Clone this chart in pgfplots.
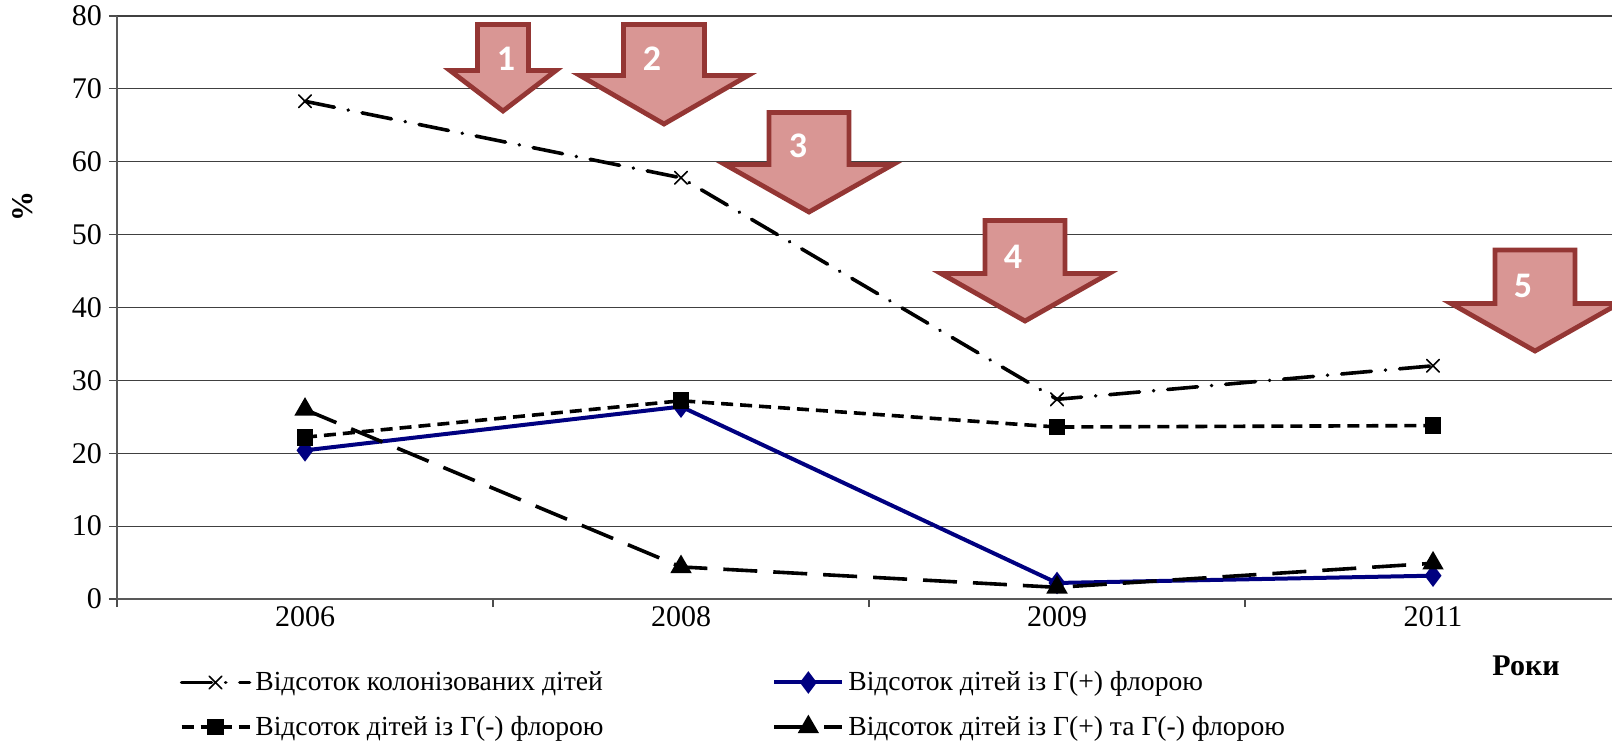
\documentclass[border=0pt]{standalone}
\usepackage{pgfplots}
\pgfplotsset{compat=1.18}
\usepackage{fontspec}
\setmainfont{Liberation Serif}
\newfontfamily\carlito{Carlito}
\definecolor{arrowline}{HTML}{943634}
\definecolor{arrowfill}{HTML}{D99694}
\definecolor{navyline}{HTML}{000080}

% block arrow: cx, half shaft, half head, top, shoulder, tip, label, lx, ly (pixels)
\newcommand\blockarrow[9]{%
  \draw[arrowline, fill=arrowfill, line width=2.4pt, line join=miter]
    (#1-#2,#4) -- (#1+#2,#4) -- (#1+#2,#5) -- (#1+#3,#5) -- (#1,#6)
    -- (#1-#3,#5) -- (#1-#2,#5) -- cycle;
  \node[text=white, font=\carlito\bfseries\fontsize{18}{20}\selectfont] at (#8,#9) {#7};}

\begin{document}
\begin{tikzpicture}
\useasboundingbox (0,0) rectangle (806pt,370pt);
\begin{axis}[
  at={(58.5pt,70.5pt)}, anchor=south west,
  scale only axis, width=747.5pt, height=291.5pt,
  xmin=-0.5, xmax=3.476, ymin=0, ymax=80,
  axis lines*=left,
  axis line style={black!65, line width=1pt},
  ytick={0,10,...,80},
  xtick={-0.5,0.5,1.5,2.5}, xticklabels={},
  extra x ticks={0,1,2,3},
  extra x tick labels={2006,2008,2009,2011},
  extra x tick style={major tick length=0pt},
  tick align=outside, major tick length=4pt,
  tick style={black!70, line width=0.6pt},
  ymajorgrids=true,
  grid style={black!75, line width=0.6pt},
  ticklabel style={font=\fontsize{15}{18}\selectfont},
  /pgf/number format/assume math mode=true,
  ylabel={\textbf{\%}},
  ylabel style={at={(axis description cs:-0.063,0.674)}, anchor=center, font=\fontsize{15}{18}\selectfont},
  xlabel={\textbf{Роки}},
  xlabel style={at={(axis description cs:0.9425,-0.115)}, anchor=center, font=\fontsize{15}{18}\selectfont},
  legend columns=2,
  legend cell align=left,
  legend style={at={(axis description cs:0.0377,-0.1098)}, anchor=north west,
    draw=none, fill=none, font=\fontsize{13.8}{16.5}\selectfont,
    row sep=7.2pt},
  legend image code/.code={\draw[mark repeat=2,mark phase=2,#1]
    plot coordinates {(0pt,0pt)(17pt,0pt)(34pt,0pt)};},
]
\addplot[black, line width=1.8pt, line cap=round,
  dash pattern=on 15pt off 7pt on 0.1pt off 7pt,
  mark=x, mark size=4.5pt, mark options={solid, line width=0.8pt}]
  coordinates {(0,68.3)(1,57.8)(2,27.4)(3,32.0)};
\addlegendentry{\makebox[256.5pt][l]{Відсоток колонізованих дітей}}
\addplot[navyline, line width=2pt,
  mark=diamond*, mark size=4pt, mark options={solid}]
  coordinates {(0,20.4)(1,26.4)(2,2.2)(3,3.2)};
\addlegendentry{Відсоток дітей із Г(+) флорою}
\addplot[black, line width=1.8pt, dash pattern=on 6pt off 3.5pt,
  mark=square*, mark size=3.3pt, mark options={solid}]
  coordinates {(0,22.2)(1,27.2)(2,23.6)(3,23.8)};
\addlegendentry{\makebox[256.5pt][l]{Відсоток дітей із Г(-) флорою}}
\addplot[black, line width=1.8pt, dash pattern=on 17pt off 8pt,
  mark=triangle*, mark size=4.4pt, mark options={solid}]
  coordinates {(0,26.0)(1,4.4)(2,1.6)(3,4.9)};
\addlegendentry{Відсоток дітей із Г(+) та Г(-) флорою}
\end{axis}
\begin{scope}[x=0.5pt, y=-0.5pt, shift={(0pt,370pt)}]
  \blockarrow{503}{25.5}{53}{24.5}{70.5}{111}{1}{506}{59}
  \blockarrow{664}{40.5}{84}{24.5}{75.5}{124}{2}{652}{59}
  \blockarrow{809}{40}{84}{112.5}{164.5}{212}{3}{798}{146}
  \blockarrow{1025}{40}{84}{220.5}{273.5}{321}{4}{1013}{257}
  \blockarrow{1535}{40}{84}{250}{303.5}{351}{5}{1523}{286}
\end{scope}
\end{tikzpicture}
\end{document}
